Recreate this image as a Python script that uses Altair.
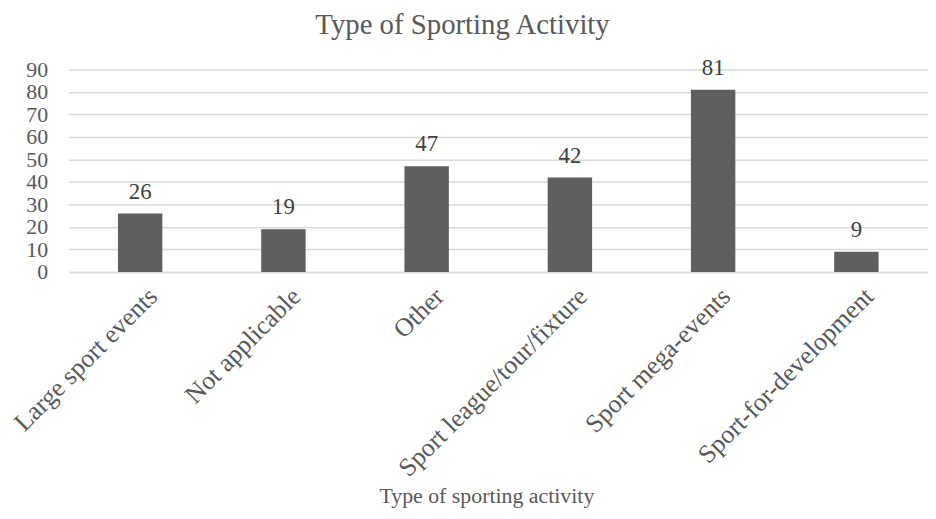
import altair as alt
import pandas as pd

categories = ["Large sport events", "Not applicable", "Other",
              "Sport league/tour/fixture", "Sport mega-events", "Sport-for-development"]
values = [26, 19, 47, 42, 81, 9]

df = pd.DataFrame({"cat": categories, "val": values})
FONT = "Times New Roman, Liberation Serif, serif"

base = alt.Chart(df).encode(
    x=alt.X("cat:N", sort=categories,
            scale=alt.Scale(paddingInner=0.69, paddingOuter=0.345),
            axis=alt.Axis(title="Type of sporting activity", labelAngle=-45,
                          labelFont=FONT, labelFontSize=26, labelColor="#595959",
                          labelLimit=400, labelOffset=4,
                          titleFont=FONT, titleFontSize=22, titleColor="#595959",
                          titleFontWeight="normal", titlePadding=15,
                          titleX=421, titleAlign="center",
                          ticks=False, domainColor="#d9d9d9", domainWidth=1.5,
                          labelPadding=11)),
    y=alt.Y("val:Q", scale=alt.Scale(domain=[0, 90]),
            axis=alt.Axis(title=None, values=list(range(0, 91, 10)),
                          labelFont=FONT, labelFontSize=22, labelColor="#595959",
                          labelOverlap=False,
                          ticks=False, domain=False, gridColor="#d9d9d9",
                          gridWidth=1.5, labelPadding=21)),
)

bars = base.mark_bar(color="#5f5f5f")
text = base.mark_text(dy=-22, font=FONT, fontSize=23, color="#404040").encode(text="val:Q")

chart = (bars + text).properties(
    width=866, height=204,
    title=alt.TitleParams("Type of Sporting Activity", font=FONT, fontSize=29,
                          color="#595959", fontWeight="normal", offset=17, dx=-36),
    padding={"left": 61, "top": 60, "right": 0, "bottom": 239},
    autosize=alt.AutoSizeParams(type="none"),
).configure_view(stroke=None)

chart.save("out.html", embed_options={"renderer": "svg", "actions": False})
